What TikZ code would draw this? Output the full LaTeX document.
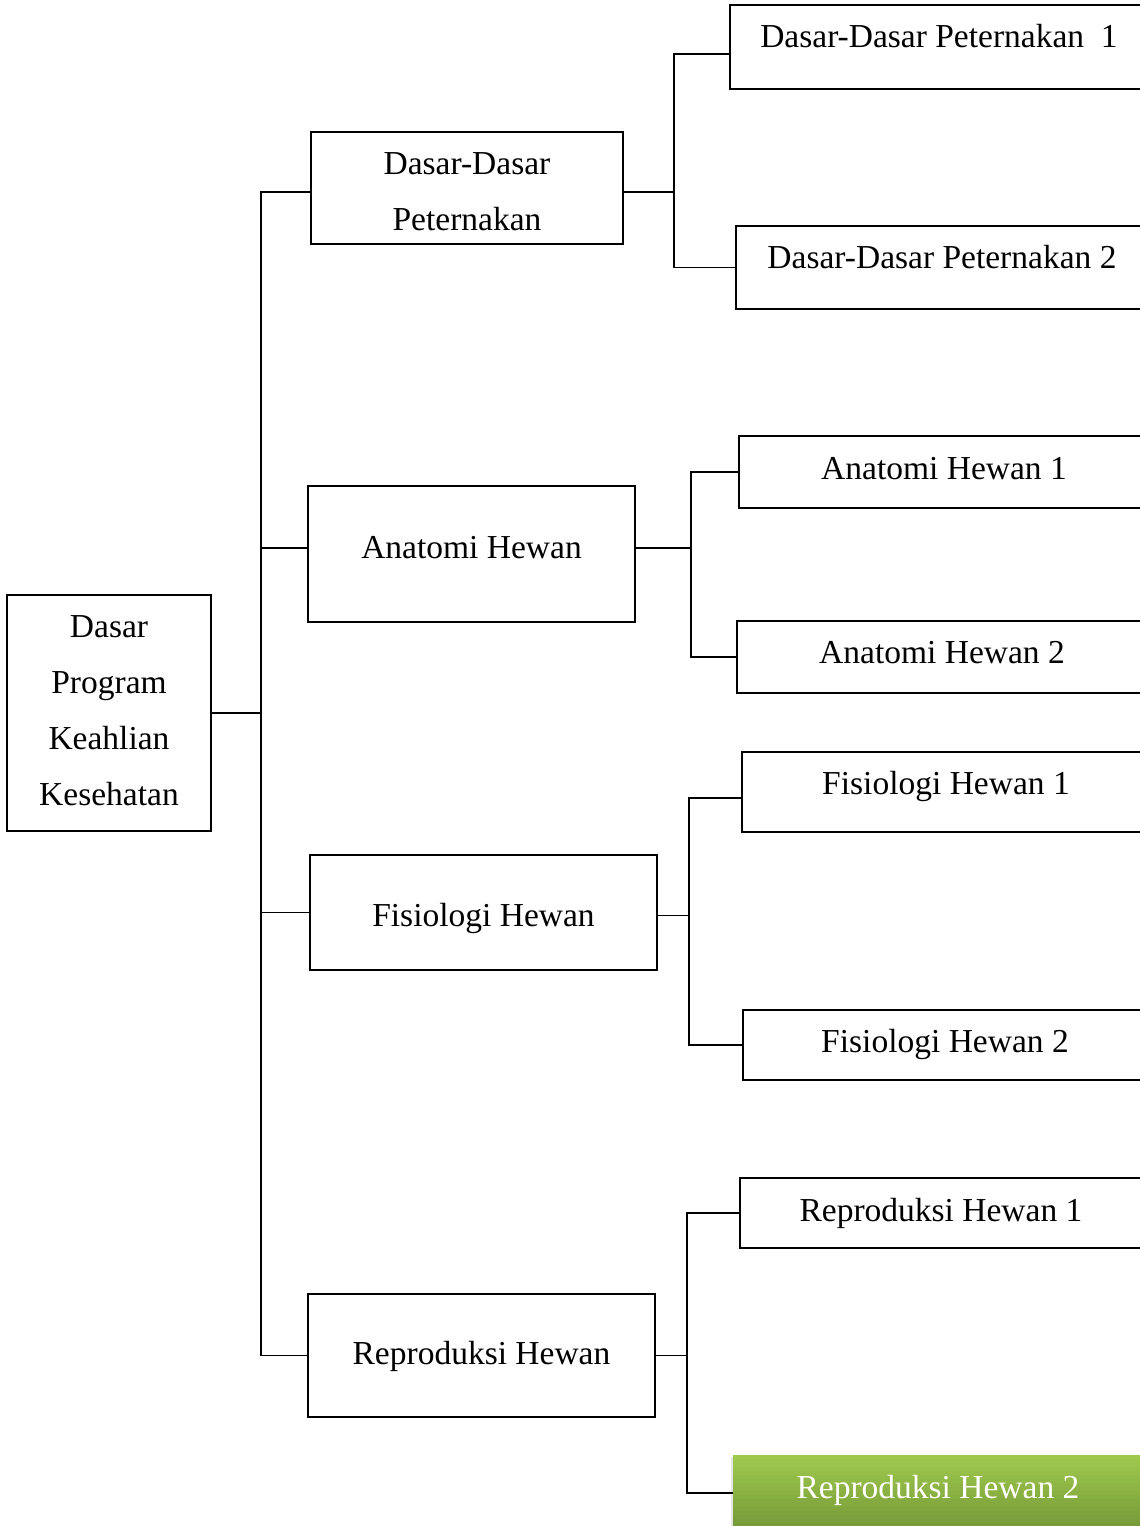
\documentclass[tikz,border=0pt]{standalone}
\usepackage{fontspec}
\setmainfont{Liberation Serif}
\definecolor{gtop}{HTML}{9FC94D}
\definecolor{gbot}{HTML}{779B39}
\begin{document}
\begin{tikzpicture}[x=1pt,y=-1pt,
  box/.style={draw=black, line width=1.8pt, inner sep=0pt, rectangle},
  txt/.style={font=\fontsize{33.5}{56}\selectfont, inner sep=0pt, align=center},
  lbl/.style={font=\fontsize{33.5}{56}\selectfont, inner sep=0pt, anchor=base},
  conn/.style={draw=black, line width=1.8pt}]
\useasboundingbox (0,0) rectangle (1140,1526);
\clip (0,0) rectangle (1140,1526);
\fill[white] (0,0) rectangle (1140,1526);

% root
\node[box, minimum width=204pt, minimum height=236pt] (root) at (109,713) {};
\node[txt] (lroot) at (109,711) {Dasar\\Program\\Keahlian\\Kesehatan};

% level 2
\node[box, minimum width=312pt, minimum height=112pt] (ddp) at (467,188) {};
\node[box, minimum width=327pt, minimum height=136pt] (ah) at (471.5,554) {};
\node[box, minimum width=347pt, minimum height=115pt] (fh) at (483.5,912.5) {};
\node[box, minimum width=347pt, minimum height=123pt] (rh) at (481.5,1355.5) {};
\node[txt] (lddp) at (467,192) {Dasar-Dasar\\Peternakan};
\node[txt] (lah) at (471.5,548) {Anatomi Hewan};
\node[txt] (lfh) at (483.5,918) {Fisiologi Hewan};
\node[txt] (lrh) at (481.5,1356) {Reproduksi Hewan};

% level 3 boxes
\node[box, minimum width=420pt, minimum height=84pt] (ddp1) at (940,47) {};
\node[box, minimum width=414pt, minimum height=83pt] (ddp2) at (943,267.5) {};
\node[box, minimum width=411pt, minimum height=72pt] (ah1) at (944.5,472) {};
\node[box, minimum width=413pt, minimum height=72pt] (ah2) at (943.5,657) {};
\node[box, minimum width=408pt, minimum height=80pt] (fh1) at (946,792) {};
\node[box, minimum width=407pt, minimum height=70pt] (fh2) at (946.5,1045) {};
\node[box, minimum width=410pt, minimum height=70pt] (rh1) at (945,1213) {};

% green box (vertical gradient, light on top, drawn as strips)
\fill[black!10] (731,1457) rectangle (1150,1540);
\foreach \i in {0,...,17} {
  \pgfmathsetmacro{\p}{\i*100/17}
  \fill[gbot!\p!gtop] (733,1455+4*\i) rectangle (1150,1459.6+4*\i);
}
\node[rectangle, inner sep=0pt, minimum width=417pt, minimum height=76pt] (rh2) at (941.5,1493) {};

% level 3 labels
\node[lbl] (lddp1) at (939,47) {Dasar-Dasar Peternakan\ \ 1};
\node[lbl] (lddp2) at (942,268) {Dasar-Dasar Peternakan 2};
\node[lbl] (lah1) at (944,479) {Anatomi Hewan 1};
\node[lbl] (lah2) at (942,663) {Anatomi Hewan 2};
\node[lbl] (lfh1) at (946,794) {Fisiologi Hewan 1};
\node[lbl] (lfh2) at (945,1052) {Fisiologi Hewan 2};
\node[lbl] (lrh1) at (941,1221) {Reproduksi Hewan 1};
\node[lbl, text=white] (lrh2) at (938,1498) {Reproduksi Hewan 2};

% trunk
\coordinate (trunk) at (261,0);
\draw[conn] ([yshift=-4pt]ddp.west) -- ([yshift=-4pt]ddp.west -| trunk) -- (rh.west -| trunk) -- (rh.west);
\draw[conn] (root.east) -- (root.east -| trunk);
\draw[conn] ([yshift=6pt]ah.west) -- ([yshift=6pt]ah.west -| trunk);
\draw[conn] (fh.west) -- (fh.west -| trunk);

% branches
\coordinate (bddp) at (674,0);
\draw[conn] ([yshift=-4pt]ddp.east) -- ([yshift=-4pt]ddp.east -| bddp);
\draw[conn] ([yshift=-7pt]ddp1.west) -- ([yshift=-7pt]ddp1.west -| bddp) -- (ddp2.west -| bddp) -- (ddp2.west);

\coordinate (bah) at (691,0);
\draw[conn] ([yshift=6pt]ah.east) -- ([yshift=6pt]ah.east -| bah);
\draw[conn] (ah1.west) -- (ah1.west -| bah) -- (ah2.west -| bah) -- (ah2.west);

\coordinate (bfh) at (689,0);
\draw[conn] ([yshift=-3pt]fh.east) -- ([yshift=-3pt]fh.east -| bfh);
\draw[conn] ([yshift=-6pt]fh1.west) -- ([yshift=-6pt]fh1.west -| bfh) -- (fh2.west -| bfh) -- (fh2.west);

\coordinate (brh) at (687,0);
\draw[conn] (rh.east) -- (rh.east -| brh);
\draw[conn] (rh1.west) -- (rh1.west -| brh) -- (rh2.west -| brh) -- (rh2.west);
\end{tikzpicture}
\end{document}
